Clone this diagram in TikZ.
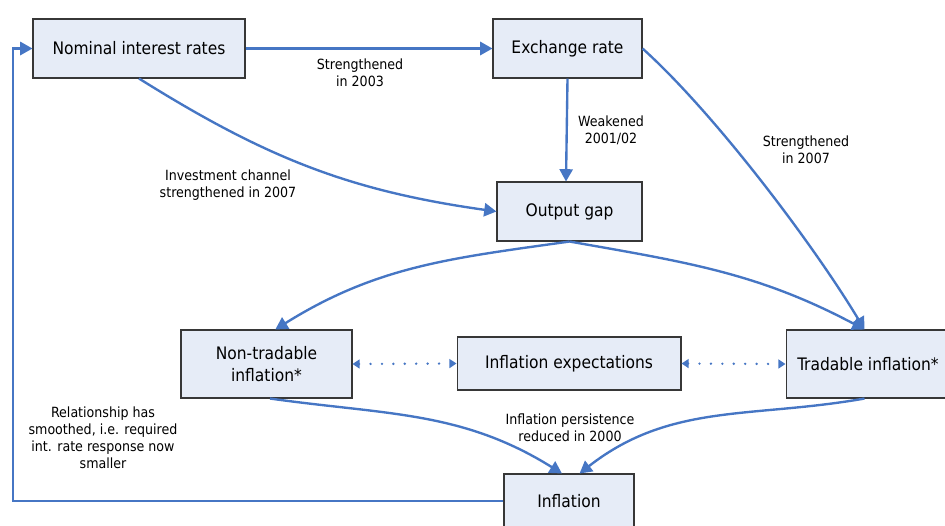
\documentclass[tikz,border=0pt]{standalone}
\usepackage{fontspec}
\setmainfont{DejaVu Sans Condensed}
\usepackage{tikz}
\usetikzlibrary{arrows.meta, positioning}

\definecolor{linkblue}{RGB}{70,118,196}
\definecolor{boxfill}{RGB}{230,236,247}
\definecolor{boxline}{RGB}{55,55,55}

\tikzset{
	box/.style={rectangle, draw=boxline, fill=boxfill, line width=0.6pt, align=center, inner sep=0pt, font=\fontsize{9.8}{12.5}\selectfont},
	link/.style={draw=linkblue, line width=1.35pt, -{Triangle[width=7.5pt, length=7pt]}},
	dots/.style={draw=linkblue, line width=1.5pt, line cap=round, dash pattern=on 0pt off 6.5pt, {Triangle[width=5pt, length=4pt]}-{Triangle[width=5pt, length=4pt]}},
	lbl/.style={align=center, font=\fontsize{8}{9.7}\selectfont}
}

\begin{document}
\begin{tikzpicture}[x=0.02cm, y=0.02cm]
		\useasboundingbox (0,0) rectangle (945,-525);
		
		\node[box, minimum width=4.24cm, minimum height=1.18cm] (NIR) at (139,-48.5) {Nominal interest rates};
		\node[box, minimum width=2.98cm, minimum height=1.18cm] (ER) at (567.5,-48.5) {Exchange rate};
		\node[box, minimum width=2.9cm, minimum height=1.18cm] (OG) at (569.5,-211.5) {Output gap};
		\node[box, minimum width=3.42cm, minimum height=1.36cm] (NT) at (266.5,-364) {Non-tradable\\inflation*};
		\node[box, minimum width=4.48cm, minimum height=1.06cm] (IE) at (569,-363.5) {Inflation expectations};
		\node[box, minimum width=3.28cm, minimum height=1.36cm] (TI) at (868,-364) {Tradable inflation*};
		\node[box, minimum width=2.6cm, minimum height=1.08cm] (INF) at (569,-501) {Inflation};
		\coordinate (FB) at (13,-501);
		
		\node[lbl] (lSt03) at (360,-73) {Strengthened\\in 2003};
		\node[lbl] (lInv) at (228,-185) {Investment channel\\strengthened in 2007};
		\node[lbl] (lWk) at (611,-130) {Weakened\\2001/02};
		\node[lbl] (lSt07) at (806,-150) {Strengthened\\in 2007};
		\node[lbl] (lPers) at (570,-428) {Inflation persistence\\reduced in 2000};
		\node[lbl] (lRel) at (103,-438) {Relationship has\\smoothed, i.e. required\\int. rate response now\\smaller};
		
		\draw[link] (NIR.east) -- (ER.west);
		\draw[link] (NIR.south) to[out=-32, in=172] (OG.west);
		\draw[link] (ER.south) -- ([xshift=-2]OG.north);
		\draw[link] (ER.east) to[out=-42, in=121, looseness=0.7] ([xshift=-2]TI.north);
		\draw[link] (OG.south) to[out=188, in=32] ([xshift=5]NT.north);
		\draw[link] (OG.south) to[out=-10, in=152] ([xshift=-2]TI.north);
		\draw[dots] (NT.east) -- (IE.west);
		\draw[dots] (IE.east) -- (TI.west);
		\draw[link] ([xshift=2]NT.south) to[out=-8, in=148] ([xshift=-4]INF.north);
		\draw[link] ([xshift=-2]TI.south) to[out=190, in=38] ([xshift=6]INF.north);
		\draw[link] (INF.west) -- (FB) |- (NIR.west);
	\end{tikzpicture}
\end{document}
